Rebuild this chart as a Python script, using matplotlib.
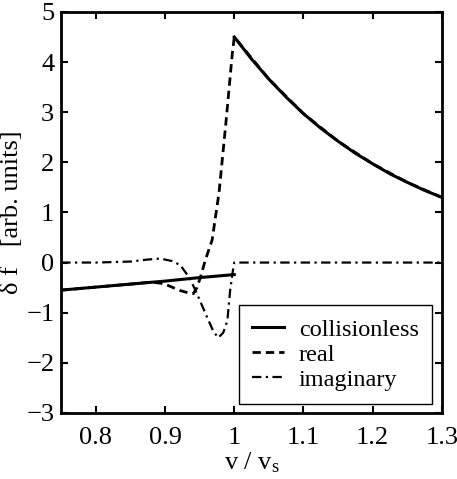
import matplotlib
matplotlib.use("Agg")
import matplotlib.pyplot as plt

plt.rcParams['font.family'] = ['Liberation Serif', 'DejaVu Serif']
plt.rcParams['mathtext.fontset'] = 'custom'
plt.rcParams['mathtext.rm'] = 'Liberation Serif'
plt.rcParams['mathtext.it'] = 'Liberation Serif:italic'
plt.rcParams['font.size'] = 19

# collisionless (odczyt z rysunku), dwie gałęzie: v < v_s i v > v_s
x_coll_lo = [0.75, 0.80, 0.85, 0.90, 0.95, 1.00]
y_coll_lo = [-0.55, -0.49, -0.43, -0.37, -0.30, -0.24]
x_coll_hi = [1.00, 1.025, 1.05, 1.075, 1.10, 1.125, 1.15, 1.175, 1.20, 1.225,
             1.25, 1.275, 1.30]
y_coll_hi = [4.50, 4.06, 3.66, 3.30, 2.97, 2.68, 2.42, 2.18, 1.97, 1.77,
             1.60, 1.44, 1.30]

# real part
x_real = [0.75, 0.80, 0.85, 0.88, 0.898, 0.922, 0.935, 0.941, 0.946, 0.951, 0.958,
          0.968, 0.978, 0.988, 0.997, 1.00, 1.05, 1.10, 1.15, 1.20, 1.25, 1.30]
y_real = [-0.55, -0.49, -0.43, -0.39, -0.42, -0.56, -0.61, -0.62, -0.50, -0.30, 0.04,
          0.45, 1.40, 2.80, 4.15, 4.50, 3.66, 2.97, 2.42, 1.97, 1.60, 1.30]

# imaginary part
x_imag = [0.75, 0.80, 0.85, 0.875, 0.893, 0.91, 0.922, 0.936, 0.946, 0.961, 0.97,
          0.977, 0.984, 0.99, 0.994, 0.998, 1.00, 1.30]
y_imag = [0.0, 0.0, 0.02, 0.06, 0.08, 0.03, -0.05, -0.32, -0.62, -1.10, -1.38,
          -1.50, -1.40, -1.16, -0.56, -0.16, 0.0, 0.0]

xticks = [0.8, 0.9, 1.0, 1.1, 1.2, 1.3]
xticklabels = ['0.8', '0.9', '1', '1.1', '1.2', '1.3']
yticks = [-3, -2, -1, 0, 1, 2, 3, 4, 5]
yticklabels = ['\u22123', '\u22122', '\u22121', '0', '1', '2', '3', '4', '5']

fig = plt.figure(figsize=(4.57, 4.79), dpi=100)
ax = fig.add_axes([0.134, 0.138, 0.833, 0.837])

ax.plot(x_real, y_real, color='black', lw=2.0, dashes=(3, 1.8), label='real')
ax.plot(x_imag, y_imag, color='black', lw=1.6, dashes=(4.2, 2, 1, 2), label='imaginary')
ax.plot(x_coll_lo, y_coll_lo, color='black', lw=2.2, label='collisionless')
ax.plot(x_coll_hi, y_coll_hi, color='black', lw=2.2)

ax.set_xlim(0.75, 1.3)
ax.set_ylim(-3, 5)
ax.set_xticks(xticks)
ax.set_xticklabels(xticklabels)
ax.set_yticks(yticks)
ax.set_yticklabels(yticklabels)
ax.tick_params(direction='in', length=5, width=1.5, top=True, right=True)
ax.tick_params(axis='x', pad=10)
ax.tick_params(axis='y', pad=5)
for s in ax.spines.values():
    s.set_linewidth(2.0)

ax.set_xlabel('v / v$_\\mathrm{s}$', labelpad=1)
ax.set_ylabel('\u03b4 f   [arb. units]', labelpad=2)

h, l = ax.get_legend_handles_labels()
order = [2, 0, 1]
leg = ax.legend([h[i] for i in order], [l[i] for i in order], loc='lower right',
                fancybox=False, edgecolor='black', framealpha=1, handlelength=1.3,
                borderpad=0.55, labelspacing=0.12, handletextpad=0.6,
                borderaxespad=0, fontsize=17.5,
                bbox_to_anchor=(0.974, 0.022))
leg.get_frame().set_linewidth(1.0)

fig.savefig('out.png', dpi=100)
